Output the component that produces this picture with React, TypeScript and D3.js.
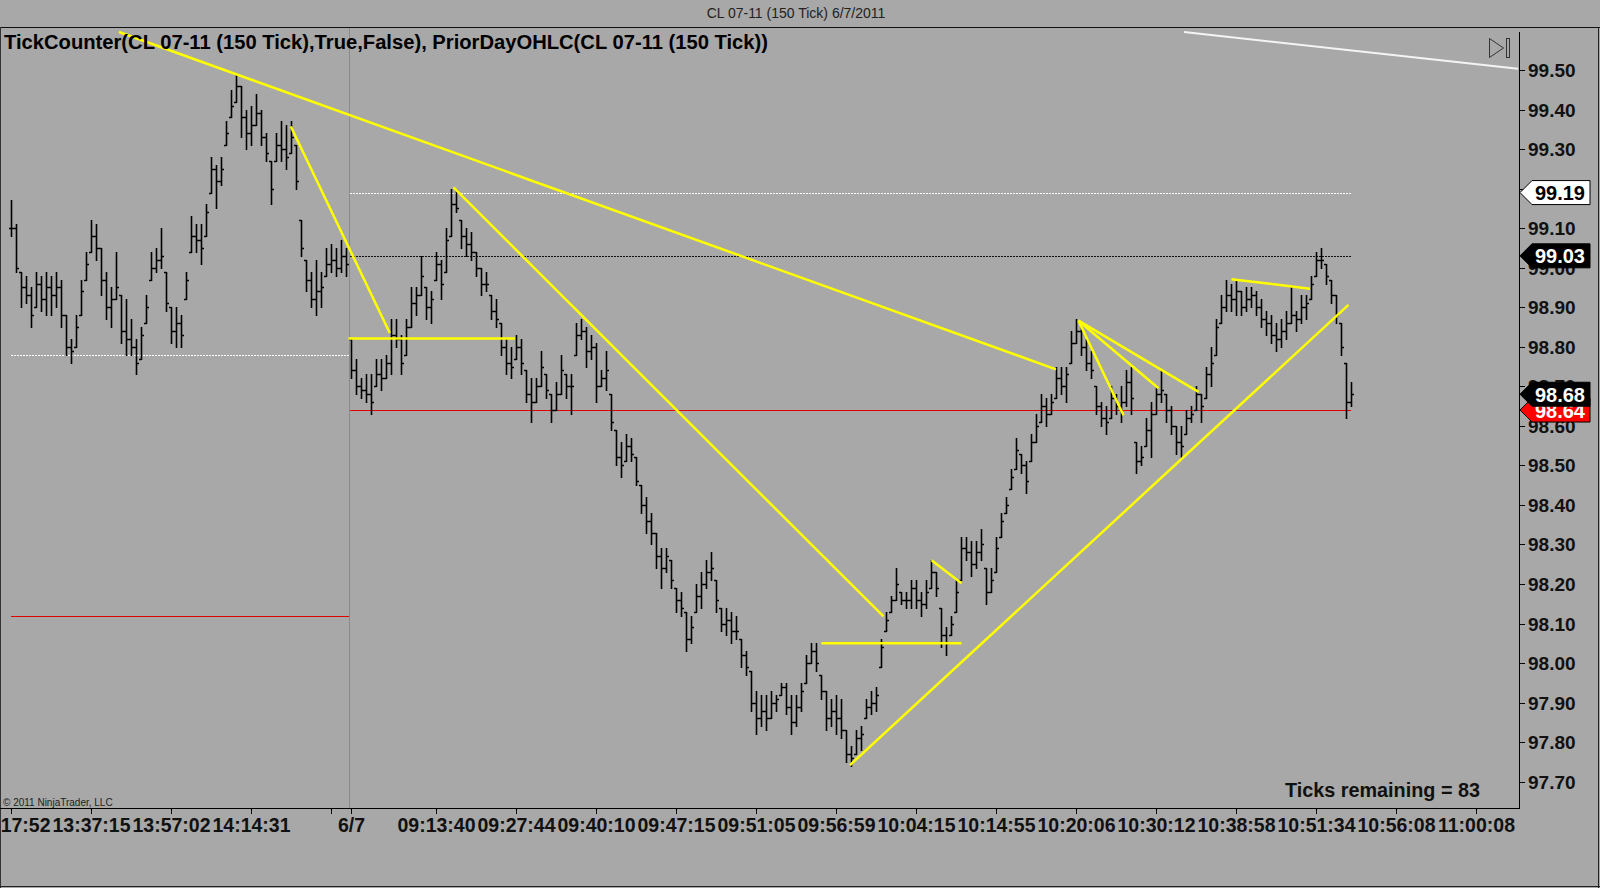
import * as d3 from 'd3'

// OHLC tick bars (150 tick), CL 07-11; bars 0-67 are 6/6, 68+ are 6/7
const highs = [
  99.17, 99.11, 98.99, 98.98, 98.95, 98.99, 98.98, 98.99, 98.98, 98.99,
  98.97, 98.88, 98.82, 98.88, 98.97, 99.04, 99.12, 99.11, 99.05, 98.99,
  98.95, 99.04, 98.93, 98.92, 98.87, 98.82, 98.85, 98.93, 99.04, 99.05,
  99.10, 98.99, 98.90, 98.90, 98.88, 98.99, 99.13, 99.11, 99.11, 99.16,
  99.28, 99.26, 99.28, 99.37, 99.45, 99.49, 99.46, 99.40, 99.41, 99.44,
  99.40, 99.34, 99.27, 99.34, 99.37, 99.36, 99.37, 99.31, 99.12, 99.02,
  98.99, 99.02, 98.99, 99.05, 99.06, 99.05, 99.07, 99.05,
  // 6/7
  98.82, 98.77, 98.72, 98.73, 98.73, 98.77, 98.77, 98.78, 98.87, 98.87,
  98.83, 98.87, 98.95, 98.95, 99.03, 98.95, 98.94, 99.04, 99.02, 99.10,
  99.20, 99.20, 99.12, 99.10, 99.09, 99.04, 99.00, 98.99, 98.93, 98.92,
  98.86, 98.82, 98.80, 98.83, 98.82, 98.74, 98.72, 98.72, 98.79, 98.73,
  98.68, 98.71, 98.78, 98.73, 98.73, 98.86, 98.87, 98.85, 98.83, 98.81,
  98.74, 98.79, 98.68,
  98.59, 98.56, 98.58, 98.57, 98.52, 98.45, 98.42, 98.38, 98.33,
  98.29, 98.29, 98.26, 98.19, 98.18, 98.13, 98.12, 98.20, 98.23, 98.26,
  98.28, 98.21, 98.14, 98.14, 98.13, 98.12, 98.06, 98.03, 97.98, 97.93,
  97.92, 97.92, 97.93, 97.92, 97.95, 97.95, 97.92, 97.92, 97.95, 98.02,
  98.05, 98.05, 97.97, 97.93, 97.91, 97.92, 97.91, 97.83, 97.79, 97.83,
  97.84, 97.91, 97.93, 97.94, 98.06, 98.13, 98.17, 98.24, 98.18, 98.18,
  98.21, 98.21, 98.18, 98.21, 98.26, 98.23, 98.14, 98.09, 98.12, 98.21,
  98.32, 98.32, 98.31, 98.31, 98.34, 98.24, 98.24, 98.32, 98.38, 98.42,
  98.49, 98.57, 98.53, 98.51, 98.58, 98.63, 98.68, 98.67, 98.68, 98.75,
  98.75, 98.75, 98.84, 98.87, 98.85, 98.82, 98.79, 98.70, 98.66, 98.65,
  98.70, 98.68, 98.70, 98.74, 98.75, 98.56, 98.55, 98.62, 98.66, 98.70,
  98.74, 98.68, 98.65, 98.60, 98.60, 98.64, 98.65, 98.70, 98.68, 98.75,
  98.80, 98.87, 98.93, 98.97, 98.96, 98.97, 98.94, 98.95, 98.95, 98.94,
  98.92, 98.89, 98.88, 98.86, 98.87, 98.89, 98.95, 98.89, 98.93, 98.93,
  98.98, 99.04, 99.05, 99.01, 98.97, 98.93, 98.86, 98.76, 98.71,
]

const lows = [
  99.08, 98.99, 98.90, 98.91, 98.85, 98.90, 98.89, 98.88, 98.88, 98.90,
  98.85, 98.78, 98.76, 98.80, 98.88, 98.97, 99.04, 99.02, 98.93, 98.87,
  98.85, 98.92, 98.81, 98.78, 98.78, 98.73, 98.77, 98.86, 98.97, 98.99,
  99.00, 98.89, 98.81, 98.80, 98.80, 98.92, 99.04, 99.04, 99.01, 99.08,
  99.19, 99.15, 99.21, 99.31, 99.38, 99.42, 99.33, 99.30, 99.31, 99.36,
  99.31, 99.27, 99.16, 99.27, 99.27, 99.25, 99.29, 99.20, 99.03, 98.94,
  98.90, 98.88, 98.90, 98.98, 98.99, 98.98, 98.99, 98.98,
  // 6/7
  98.72, 98.68, 98.67, 98.66, 98.63, 98.70, 98.69, 98.72, 98.73, 98.80,
  98.73, 98.78, 98.85, 98.88, 98.93, 98.87, 98.86, 98.97, 98.92, 98.99,
  99.08, 99.14, 99.05, 99.03, 99.02, 98.98, 98.93, 98.94, 98.87, 98.85,
  98.78, 98.73, 98.72, 98.77, 98.73, 98.66, 98.61, 98.66, 98.70, 98.67,
  98.61, 98.64, 98.68, 98.67, 98.63, 98.78, 98.82, 98.75, 98.77, 98.66,
  98.70, 98.69, 98.59,
  98.50, 98.47, 98.51, 98.51, 98.45, 98.38, 98.33, 98.30, 98.24,
  98.19, 98.23, 98.19, 98.13, 98.12, 98.03, 98.05, 98.13, 98.14, 98.19,
  98.21, 98.13, 98.08, 98.07, 98.05, 98.06, 97.99, 97.97, 97.88, 97.82,
  97.84, 97.83, 97.86, 97.88, 97.92, 97.87, 97.82, 97.84, 97.88, 97.95,
  98.00, 97.98, 97.91, 97.83, 97.84, 97.82, 97.81, 97.75, 97.74, 97.77,
  97.78, 97.86, 97.87, 97.88, 97.99, 98.08, 98.13, 98.16, 98.15, 98.14,
  98.14, 98.14, 98.12, 98.14, 98.19, 98.17, 98.04, 98.02, 98.07, 98.13,
  98.21, 98.26, 98.22, 98.24, 98.26, 98.15, 98.18, 98.23, 98.32, 98.38,
  98.44, 98.49, 98.48, 98.43, 98.51, 98.56, 98.61, 98.60, 98.63, 98.67,
  98.68, 98.66, 98.76, 98.81, 98.78, 98.74, 98.72, 98.63, 98.60, 98.58,
  98.62, 98.63, 98.61, 98.65, 98.63, 98.48, 98.50, 98.55, 98.52, 98.63,
  98.66, 98.61, 98.58, 98.53, 98.52, 98.58, 98.61, 98.64, 98.61, 98.67,
  98.70, 98.78, 98.86, 98.89, 98.89, 98.88, 98.88, 98.89, 98.90, 98.88,
  98.85, 98.83, 98.81, 98.79, 98.80, 98.82, 98.86, 98.84, 98.86, 98.87,
  98.92, 98.98, 99.00, 98.96, 98.91, 98.86, 98.78, 98.62, 98.65,
]

const closes = [
  99.10, 99.00, 98.95, 98.93, 98.88, 98.96, 98.92, 98.95, 98.93, 98.95,
  98.88, 98.80, 98.79, 98.85, 98.94, 99.01, 99.08, 99.05, 98.97, 98.90,
  98.92, 98.95, 98.84, 98.82, 98.80, 98.76, 98.83, 98.90, 99.00, 99.02,
  99.03, 98.91, 98.84, 98.86, 98.83, 98.97, 99.08, 99.07, 99.05, 99.14,
  99.25, 99.22, 99.25, 99.34, 99.41, 99.46, 99.38, 99.34, 99.36, 99.39,
  99.33, 99.29, 99.20, 99.31, 99.30, 99.28, 99.33, 99.22, 99.05, 98.97,
  98.92, 98.94, 98.95, 99.01, 99.02, 99.00, 99.03, 99.01,
  // 6/7
  98.74, 98.70, 98.69, 98.68, 98.66, 98.73, 98.72, 98.76, 98.83, 98.82,
  98.76, 98.85, 98.91, 98.93, 98.98, 98.90, 98.92, 99.01, 98.96, 99.07,
  99.16, 99.15, 99.08, 99.06, 99.04, 99.00, 98.96, 98.96, 98.89, 98.87,
  98.80, 98.76, 98.75, 98.80, 98.76, 98.68, 98.66, 98.70, 98.75, 98.69,
  98.64, 98.68, 98.74, 98.70, 98.70, 98.83, 98.84, 98.79, 98.80, 98.70,
  98.72, 98.74, 98.61,
  98.52, 98.50, 98.55, 98.53, 98.46, 98.40, 98.36, 98.33, 98.27,
  98.24, 98.27, 98.21, 98.16, 98.14, 98.06, 98.09, 98.17, 98.20, 98.23,
  98.24, 98.16, 98.10, 98.11, 98.08, 98.08, 98.02, 97.99, 97.90, 97.86,
  97.88, 97.86, 97.90, 97.91, 97.94, 97.89, 97.85, 97.89, 97.93, 98.00,
  98.03, 98.00, 97.93, 97.86, 97.88, 97.86, 97.83, 97.77, 97.76, 97.81,
  97.82, 97.89, 97.90, 97.92, 98.04, 98.11, 98.16, 98.20, 98.16, 98.16,
  98.19, 98.16, 98.15, 98.18, 98.23, 98.19, 98.07, 98.05, 98.10, 98.18,
  98.29, 98.28, 98.25, 98.28, 98.30, 98.18, 98.21, 98.29, 98.36, 98.40,
  98.47, 98.54, 98.50, 98.46, 98.56, 98.60, 98.65, 98.63, 98.66, 98.72,
  98.70, 98.73, 98.81, 98.84, 98.80, 98.76, 98.74, 98.65, 98.62, 98.61,
  98.67, 98.65, 98.66, 98.71, 98.67, 98.51, 98.52, 98.59, 98.63, 98.68,
  98.69, 98.64, 98.60, 98.56, 98.55, 98.62, 98.63, 98.68, 98.65, 98.73,
  98.76, 98.85, 98.90, 98.93, 98.92, 98.94, 98.90, 98.92, 98.93, 98.90,
  98.87, 98.86, 98.83, 98.82, 98.84, 98.86, 98.88, 98.87, 98.90, 98.91,
  98.96, 99.02, 99.02, 98.98, 98.93, 98.88, 98.80, 98.66, 98.68,
]

const sessionStart = 68 // first bar of 6/7

const yTicks = [97.7, 97.8, 97.9, 98.0, 98.1, 98.2, 98.3, 98.4, 98.5, 98.6, 98.7, 98.8, 98.9, 99.0, 99.1, 99.2, 99.3, 99.4, 99.5]

// x ticks are bar indexes
const xTickBars = [0, 16, 32, 48, 64, 68, 85, 101, 117, 133, 149, 165, 181, 197, 213, 229, 245, 261, 277, 293]
const xTickLabels = [
  '13:17:52', '13:37:15', '13:57:02', '14:14:31', '', '6/7',
  '09:13:40', '09:27:44', '09:40:10', '09:47:15', '09:51:05', '09:56:59', '10:04:15',
  '10:14:55', '10:20:06', '10:30:12', '10:38:58', '10:51:34', '10:56:08', '11:00:08',
]

// PriorDayOHLC levels
const priorDayDotted = [98.78]
const priorDayRed = [98.12]
const todayWhiteDotted = [99.19]
const todayBlackDotted = [99.03]
const todayRed = [98.64]

// axis price markers: [price, kind]
const markers: [number, string][] = [
  [99.19, 'white'],
  [99.03, 'black'],
  [98.64, 'red'],
  [98.68, 'black'],
]

// hand drawn lines: [bar1, price1, bar2, price2]
const yellowLines = [
  [21.6, 99.596, 209, 98.743],
  [55.96, 99.357, 75.76, 98.835],
  [67.5, 98.821, 100.8, 98.821],
  [88.5, 99.203, 174.5, 98.118],
  [162.1, 98.05, 190.1, 98.05],
  [184.1, 98.26, 190.1, 98.202],
  [167.8, 97.742, 267.5, 98.906],
  [213.5, 98.866, 222.5, 98.627],
  [213.5, 98.866, 229.5, 98.695],
  [213.5, 98.866, 237.5, 98.686],
  [244.1, 98.971, 259.8, 98.947],
]
const whiteLines = [[234.6, 99.596, 301.4, 99.503]]

const W = 1600
const H = 888
const plotTop = 28
const plotRight = 1519
const plotBottom = 808
const FONT = '"Liberation Sans", Arial, Helvetica, sans-serif'
const BG = '#a8a8a8'

const x = d3.scaleLinear().domain([0, 268]).range([11, 1351])
const y = d3.scaleLinear().domain([97.7, 99.5]).range([781.7, 70])
const py = (v: number) => Math.round(y(v)) + 0.5

export default function App() {
  const lastBar = highs.length - 1

  // vertical high-low line, open tick to the left, close tick to the right
  const barPath = highs
    .map((h, i) => {
      const l = lows[i]
      const c = closes[i]
      const prev = i === 0 ? c : closes[i - 1]
      const o = Math.max(l, Math.min(h, prev))
      const bx = Math.round(x(i)) + 0.5
      return `M${bx},${Math.round(y(h))}V${Math.round(y(l)) + 1}M${bx - 2.5},${py(o)}H${bx}M${bx},${py(Math.min(h, Math.max(l, c)))}H${bx + 2.5}`
    })
    .join('')

  const line = d3
    .line<[number, number]>()
    .x((d) => x(d[0]))
    .y((d) => y(d[1]))

  const sepX = Math.round(x(sessionStart - 0.35)) + 0.5

  const levelLine = (p: number, from: number, to: number, stroke: string, dash?: string, key?: string) => (
    <line
      key={key}
      x1={x(from)}
      x2={x(to)}
      y1={py(p)}
      y2={py(p)}
      stroke={stroke}
      strokeWidth={1}
      strokeDasharray={dash}
      shapeRendering="crispEdges"
    />
  )

  return (
    <div style={{ position: 'fixed', left: 0, top: 0, width: W, height: H }}>
      <svg width={W} height={H} style={{ display: 'block', fontFamily: FONT }}>
        <defs>
          <clipPath id="plot">
            <rect x={1} y={plotTop} width={plotRight - 1} height={plotBottom - plotTop} />
          </clipPath>
        </defs>
        <rect x={0} y={0} width={W} height={H} fill={BG} />

        {/* window title */}
        <text x={796} y={18} textAnchor="middle" fontSize={14} fill="#222">
          CL 07-11 (150 Tick)  6/7/2011
        </text>

        {/* frame */}
        <line x1={0} x2={W} y1={27.5} y2={27.5} stroke="#111" strokeWidth={1} shapeRendering="crispEdges" />
        <line x1={0.5} x2={0.5} y1={27} y2={H} stroke="#333" strokeWidth={1} shapeRendering="crispEdges" />
        <line x1={W - 1.5} x2={W - 1.5} y1={27} y2={H} stroke="#222" strokeWidth={1} shapeRendering="crispEdges" />
        <line x1={0} x2={W} y1={H - 1.5} y2={H - 1.5} stroke="#222" strokeWidth={1} shapeRendering="crispEdges" />

        <g clipPath="url(#plot)">
          {/* session separator */}
          <line x1={sepX} x2={sepX} y1={plotTop} y2={plotBottom} stroke="#8a8a8a" strokeWidth={1} shapeRendering="crispEdges" />

          {priorDayDotted.map((p, i) => levelLine(p, 0, sessionStart - 0.5, '#ffffff', '1.5,1.5', `pd${i}`))}
          {priorDayRed.map((p, i) => levelLine(p, 0, sessionStart - 0.5, '#e00000', undefined, `pr${i}`))}
          {todayWhiteDotted.map((p, i) => levelLine(p, sessionStart - 0.2, lastBar, '#ffffff', '1.5,1.5', `tw${i}`))}
          {todayBlackDotted.map((p, i) => levelLine(p, sessionStart - 0.2, lastBar, '#111111', '1.5,1.5', `tb${i}`))}
          {todayRed.map((p, i) => levelLine(p, sessionStart - 0.2, lastBar, '#e00000', undefined, `tr${i}`))}

          <path d={barPath} fill="none" stroke="#000" strokeWidth={1.6} />

          {yellowLines.map((d, i) => (
            <path
              key={`y${i}`}
              d={line([[d[0], d[1]], [d[2], d[3]]]) ?? ''}
              stroke="#ffff00"
              strokeWidth={2.5}
              fill="none"
            />
          ))}
          {whiteLines.map((d, i) => (
            <path
              key={`w${i}`}
              d={line([[d[0], d[1]], [d[2], d[3]]]) ?? ''}
              stroke="#f4f4f4"
              strokeWidth={2}
              fill="none"
            />
          ))}
        </g>

        {/* indicator caption */}
        <text x={4} y={49} fontSize={20} fontWeight="bold" fill="#000" textLength={764} lengthAdjust="spacingAndGlyphs">
          TickCounter(CL 07-11 (150 Tick),True,False),  PriorDayOHLC(CL 07-11 (150 Tick))
        </text>

        {/* go-to-end button */}
        <path d="M1489.5,38.5 L1503.5,48 L1489.5,57.5 Z" fill="none" stroke="#333" strokeWidth={1} />
        <rect x={1506.5} y={38.5} width={3} height={19} fill="none" stroke="#333" strokeWidth={1} />

        <text x={1480} y={797} textAnchor="end" fontSize={20} fontWeight="bold" fill="#111" textLength={195} lengthAdjust="spacingAndGlyphs">
          Ticks remaining = 83
        </text>
        <text x={3} y={806} fontSize={10} fill="#222">
          © 2011 NinjaTrader, LLC
        </text>

        {/* y axis */}
        <line x1={plotRight + 0.5} x2={plotRight + 0.5} y1={32} y2={plotBottom} stroke="#000" strokeWidth={1} shapeRendering="crispEdges" />
        {yTicks.map((t) => (
          <g key={`yt${t}`}>
            <line x1={plotRight} x2={plotRight + 6} y1={py(t)} y2={py(t)} stroke="#000" strokeWidth={1} shapeRendering="crispEdges" />
            <text x={1528} y={y(t) + 7} fontSize={19} fontWeight="bold" fill="#111">
              {t.toFixed(2)}
            </text>
          </g>
        ))}

        {/* x axis */}
        <line x1={0} x2={plotRight + 1} y1={plotBottom + 0.5} y2={plotBottom + 0.5} stroke="#000" strokeWidth={1} shapeRendering="crispEdges" />
        {xTickBars.map((b, i) => {
          const tx = Math.round(x(b)) + 0.5
          return (
            <g key={`xt${i}`}>
              <line x1={tx} x2={tx} y1={plotBottom} y2={plotBottom + 6} stroke="#000" strokeWidth={1} shapeRendering="crispEdges" />
              {xTickLabels[i] && (
                <text x={tx} y={832} textAnchor="middle" fontSize={19.5} fontWeight="bold" fill="#111">
                  {xTickLabels[i]}
                </text>
              )}
            </g>
          )
        })}

        {/* price markers */}
        {markers.map(([p, kind], i) => {
          const my = y(p)
          const fill = kind === 'white' ? '#ffffff' : kind === 'red' ? '#ff0000' : '#000000'
          const txt = kind === 'white' ? '#000' : '#fff'
          const pts = `1520,${my} 1532,${my - 12} 1590,${my - 12} 1590,${my + 12} 1532,${my + 12}`
          return (
            <g key={`m${i}`}>
              <polygon points={pts} fill={fill} stroke="#000" strokeWidth={1} />
              <text x={1585} y={my + 7.5} textAnchor="end" fontSize={20} fontWeight="bold" fill={txt}>
                {p.toFixed(2)}
              </text>
            </g>
          )
        })}
      </svg>
    </div>
  )
}
